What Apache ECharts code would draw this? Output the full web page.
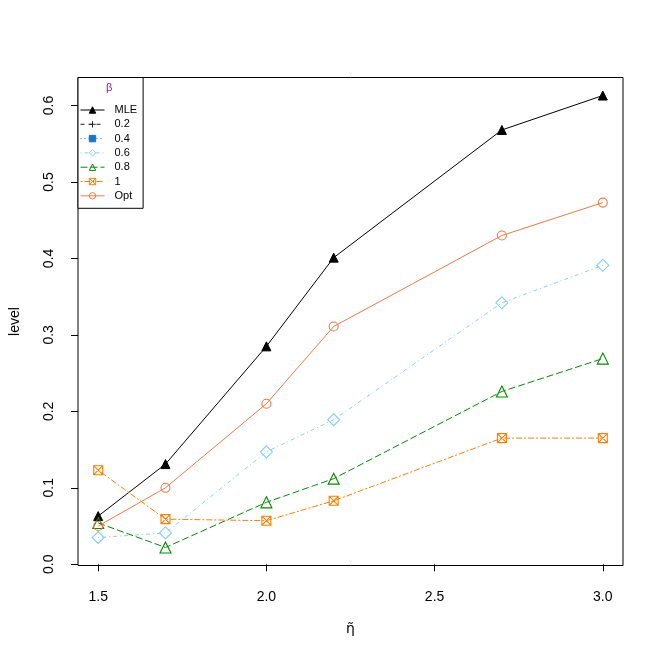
<!DOCTYPE html>
<html>
<head>
<meta charset="utf-8">
<script src="https://cdn.jsdelivr.net/npm/echarts@6/dist/echarts.min.js"></script>
<style>html,body{margin:0;padding:0;background:#fff}#c{width:664px;height:664px}</style>
</head>
<body>
<div id="c"></div>
<script>
var etaValues = [1.5, 1.7, 2.0, 2.2, 2.7, 3.0];
var seriesNames = ['MLE', '0.2', '0.4', '0.6', '0.8', '1', 'Opt'];
var mleLevel = [0.063, 0.131, 0.285, 0.401, 0.568, 0.613];
var beta02Level = [];
var beta04Level = [];
var beta06Level = [0.035, 0.041, 0.147, 0.189, 0.342, 0.391];
var beta08Level = [0.054, 0.022, 0.081, 0.112, 0.226, 0.269];
var beta1Level = [0.123, 0.059, 0.057, 0.083, 0.165, 0.165];
var optLevel = [0.050, 0.100, 0.210, 0.311, 0.430, 0.473];
var xTicks = [1.5, 2.0, 2.5, 3.0];
var yTicks = [0.0, 0.1, 0.2, 0.3, 0.4, 0.5, 0.6];

var FONT = 'Liberation Sans, Arial, sans-serif';
function pairs(vals) {
  return vals.map(function (v, i) { return [etaValues[i], v]; });
}
var boxX = 'path://M0,0 L10,0 L10,10 L0,10 Z M0,0 L10,10 M10,0 L0,10';
var plus = 'path://M5,0 L5,10 M0,5 L10,5';

function mk(name, vals, color, dash, symbol, size, hollow) {
  return {
    name: name, type: 'line', data: pairs(vals),
    symbol: symbol, symbolSize: size, showSymbol: true,
    lineStyle: { color: color, width: 1, type: dash },
    itemStyle: hollow ? { color: 'rgba(255,255,255,0)', borderColor: color, borderWidth: 1.1 }
                      : { color: color, borderColor: color, borderWidth: 1 },
    emphasis: { disabled: true },
    animation: false
  };
}

var chart = echarts.init(document.getElementById('c'), null, { renderer: 'canvas' });
chart.setOption({
  backgroundColor: '#fff',
  animation: false,
  grid: { left: 78, right: 41, top: 77.5, bottom: 98.5, show: true, borderColor: '#000', borderWidth: 1, outerBoundsMode: 'none' },
  xAxis: {
    type: 'value', min: 1.44, max: 3.06,
    name: 'η̃', nameLocation: 'middle', nameGap: 57,
    nameTextStyle: { fontFamily: 'DejaVu Sans, sans-serif', fontSize: 14, color: '#000' },
    axisLine: { show: false },
    splitLine: { show: false },
    axisTick: { show: true, inside: false, length: 7, lineStyle: { color: '#000', width: 1 }, customValues: xTicks },
    axisLabel: { customValues: xTicks, margin: 25, fontFamily: FONT, fontSize: 14, color: '#000',
      formatter: function (v) { return v.toFixed(1); } }
  },
  yAxis: {
    type: 'value', min: -0.0016, max: 0.6366,
    name: 'level', nameLocation: 'middle', nameGap: 56, nameRotate: 90,
    nameTextStyle: { fontFamily: FONT, fontSize: 14, color: '#000' },
    axisLine: { show: false },
    splitLine: { show: false },
    axisTick: { show: true, inside: false, length: 7, lineStyle: { color: '#000', width: 1 }, customValues: yTicks },
    axisLabel: { customValues: yTicks, rotate: 90, margin: 22, fontFamily: FONT, fontSize: 14, color: '#000',
      formatter: function (v) { return v.toFixed(1); } }
  },
  legend: {
    orient: 'vertical', left: 78, top: 77.5,
    padding: [26, 6, 6, 2],
    itemWidth: 24, itemHeight: 8, itemGap: 1.3,
    borderColor: '#000', borderWidth: 1, backgroundColor: '#fff',
    selectedMode: false,
    data: seriesNames,
    lineStyle: { width: 1 },
    itemStyle: { borderWidth: 1 },
    textStyle: { fontFamily: FONT, fontSize: 11, color: '#000', padding: [0, 0, 0, 5], lineHeight: 13 }
  },
  graphic: [{
    type: 'text', left: 106, top: 82, z: 1000, zlevel: 1,
    style: { text: 'β', fontFamily: FONT, fontSize: 11, fill: '#8B1A8B' }
  }],
  series: [
    mk('MLE', mleLevel, '#000000', 'solid', 'triangle', 9, false),
    mk('0.2', beta02Level, '#222222', [4, 4], plus, 9, true),
    mk('0.4', beta04Level, '#1874CD', [1, 3], 'rect', 8, false),
    mk('0.6', beta06Level, '#87CEFA', [1, 3, 4, 3], 'diamond', 12, true),
    mk('0.8', beta08Level, '#008B00', [7, 3], 'triangle', 11, true),
    mk('1', beta1Level, '#FF7F00', [2, 2, 6, 2], boxX, 9, true),
    mk('Opt', optLevel, '#F07A45', 'solid', 'circle', 9, true)
  ]
});
</script>
</body>
</html>
